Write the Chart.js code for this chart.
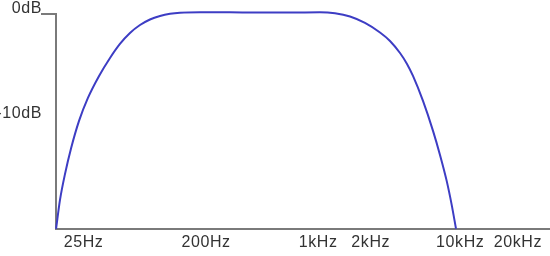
<!DOCTYPE html>
<html>
<head>
<meta charset="utf-8">
<script src="https://cdn.jsdelivr.net/npm/chart.js@4/dist/chart.umd.min.js"></script>
<style>
  html, body { margin: 0; padding: 0; background: #ffffff; }
  #wrap { width: 550px; height: 256px; }
</style>
</head>
<body>
<div id="wrap"><canvas id="c" width="550" height="256"></canvas></div>
<script>
// Frequency (Hz) of each sampled point on the response curve
const frequencies = [17.7, 18.8, 20.3, 22.3, 25.2, 28.9, 34.3, 40.6, 47.3, 55.2, 64.4, 75.1, 87.6,
  102.2, 119.2, 162.2, 257.3, 408.2, 647.8, 1028, 1295, 1632, 2055, 2589, 3020, 3523, 3924, 4302,
  5018, 5855, 6519, 7226, 7805, 8340];
// Level (dB) at each of those frequencies
const levels = [-21.6, -18.7, -16.1, -13.5, -10.75, -8.44, -6.23, -4.42, -3.01, -1.91, -1.11, -0.55, -0.20,
  0.02, 0.13, 0.18, 0.17, 0.14, 0.14, 0.17, 0.07, -0.25, -0.90, -1.86, -2.71, -3.92, -5.02, -6.23,
  -8.74, -11.75, -14.17, -16.78, -19.19, -21.6];
// Axis ticks
const xTickValues = [25, 200, 1000, 2000, 10000, 20000];
const xTickLabels = ['25Hz', '200Hz', '1kHz', '2kHz', '10kHz', '20kHz'];
const yTickValues = [0, -10];
const yTickLabels = ['0dB', '-10dB'];

// Layout-only: small horizontal nudges of the x labels (in spaces; + = right, - = left)
const xLabelNudge = [2, -3, 0, 3, -3, 2];

const points = frequencies.map((f, i) => ({ x: f, y: levels[i] }));
const axisGray = '#7a7a7a';
const textColor = '#333333';
const baseFont = { family: "'Liberation Sans', Arial, Helvetica, sans-serif", size: 16 };

const spacing = {
  id: 'spacing',
  beforeLayout(chart) { chart.ctx.letterSpacing = '0.6px'; },
  beforeDraw(chart) { chart.ctx.letterSpacing = '0.6px'; }
};

new Chart(document.getElementById('c'), {
  type: 'line',
  data: {
    datasets: [{
      data: points,
      borderColor: '#3d3dc4',
      borderWidth: 2,
      pointRadius: 0,
      fill: false,
      cubicInterpolationMode: 'monotone',
      clip: false
    }]
  },
  options: {
    responsive: false,
    animation: false,
    layout: { padding: { top: 14, left: 0, right: 0, bottom: 0 } },
    plugins: { legend: { display: false }, tooltip: { enabled: false } },
    scales: {
      x: {
        type: 'logarithmic',
        min: 17.68,
        max: 35436,
        afterBuildTicks: (s) => { s.ticks = xTickValues.map(v => ({ value: v })); },
        ticks: {
          autoSkip: false,
          maxRotation: 0,
          padding: 4,
          color: textColor,
          font: baseFont,
          callback: (v) => {
            const i = xTickValues.indexOf(v);
            if (i < 0) return '';
            const n = xLabelNudge[i];
            const pad = ' '.repeat(Math.abs(n));
            return n > 0 ? pad + xTickLabels[i] : xTickLabels[i] + pad;
          }
        },
        grid: { display: false, drawTicks: false },
        border: { display: true, color: axisGray, width: 2 }
      },
      y: {
        type: 'linear',
        min: -21.6,
        max: 0,
        afterBuildTicks: (s) => { s.ticks = yTickValues.map(v => ({ value: v })); },
        afterFit: (s) => { s.width = 56; },
        ticks: {
          padding: -1,
          color: textColor,
          font: (ctx) => (ctx.tick && ctx.tick.value === 0)
            ? Object.assign({}, baseFont, { lineHeight: 0.69 })
            : baseFont,
          callback: (v) => {
            const i = yTickValues.indexOf(v);
            if (i < 0) return '';
            return v === 0 ? [yTickLabels[i], ''] : yTickLabels[i];
          }
        },
        grid: {
          drawOnChartArea: false,
          drawTicks: true,
          tickLength: 15,
          lineWidth: 2,
          color: (ctx) => (ctx.tick && ctx.tick.value === 0) ? axisGray : 'rgba(0,0,0,0)'
        },
        border: { display: true, color: axisGray, width: 2 }
      }
    }
  },
  plugins: [spacing]
});
</script>
</body>
</html>
